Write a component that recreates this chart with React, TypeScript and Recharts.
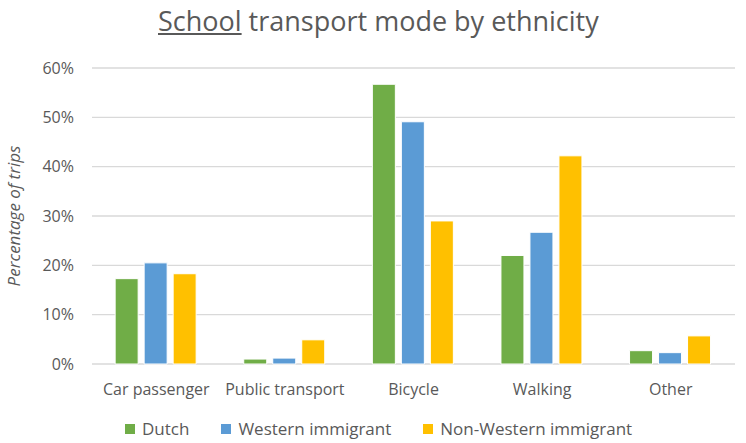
import { BarChart, Bar, XAxis, YAxis, CartesianGrid } from 'recharts';

const modes = ['Car passenger', 'Public transport', 'Bicycle', 'Walking', 'Other'];
const dutch = [17.3, 1.0, 56.7, 22.0, 2.7];
const western = [20.5, 1.2, 49.1, 26.7, 2.3];
const nonWestern = [18.3, 4.9, 29.0, 42.2, 5.7];
const yTicks = [0, 10, 20, 30, 40, 50, 60];

const series = [
  { key: 'dutch', name: 'Dutch', color: '#70AD47' },
  { key: 'western', name: 'Western immigrant', color: '#5B9BD5' },
  { key: 'nonWestern', name: 'Non-Western immigrant', color: '#FFC000' },
];

const data = modes.map((mode, i) => ({
  mode,
  dutch: dutch[i],
  western: western[i],
  nonWestern: nonWestern[i],
}));

const font = '"Open Sans", "Noto Sans", sans-serif';
const textColor = '#595959';

function LegendRow() {
  return (
    <div
      style={{
        position: 'absolute',
        left: 125,
        top: 419,
        height: 20,
        display: 'flex',
        fontFamily: font,
        fontSize: 17,
        lineHeight: '20px',
        color: textColor,
        whiteSpace: 'nowrap',
      }}
    >
      {series.map((s) => (
        <div key={s.key} style={{ display: 'flex', alignItems: 'center', marginRight: 32 }}>
          <span style={{ width: 10, height: 10, background: s.color, display: 'inline-block', marginRight: 7 }} />
          {s.name}
        </div>
      ))}
    </div>
  );
}

export default function App() {
  return (
    <div style={{ position: 'absolute', left: 0, top: 0, width: 746, height: 443, background: '#fff', overflow: 'hidden' }}>
      <div
        style={{
          position: 'absolute',
          top: 2,
          left: 158,
          fontFamily: font,
          fontSize: 27,
          color: textColor,
          whiteSpace: 'nowrap',
        }}
      >
        <span style={{ textDecoration: 'underline' }}>School</span> transport mode by ethnicity
      </div>
      <BarChart
        width={746}
        height={443}
        data={data}
        margin={{ top: 68, right: 11, bottom: 49, left: 0 }}
        barCategoryGap="18%"
        barGap={6}
      >
        <CartesianGrid vertical={false} stroke="#D9D9D9" strokeWidth={1.3} />
        <XAxis
          dataKey="mode"
          height={30}
          axisLine={false}
          tickLine={false}
          tickSize={0}
          tickMargin={20}
          tick={{ fill: textColor, fontSize: 16, fontFamily: font }}
          interval={0}
        />
        <YAxis
          width={92}
          domain={[0, 60]}
          ticks={yTicks}
          axisLine={false}
          tickLine={false}
          tickSize={0}
          tickMargin={18}
          tickFormatter={(v: number) => `${v}%`}
          tick={{ fill: textColor, fontSize: 16, fontFamily: font }}
          label={{
            value: 'Percentage of trips',
            angle: -90,
            position: 'insideLeft',
            offset: 14,
            style: { fill: textColor, fontSize: 17, fontStyle: 'italic', fontFamily: font, textAnchor: 'middle' },
          }}
        />
        {series.map((s) => (
          <Bar
            key={s.key}
            dataKey={s.key}
            name={s.name}
            fill={s.color}
            stroke="#fff"
            strokeWidth={1}
            isAnimationActive={false}
          />
        ))}
      </BarChart>
      <LegendRow />
    </div>
  );
}
